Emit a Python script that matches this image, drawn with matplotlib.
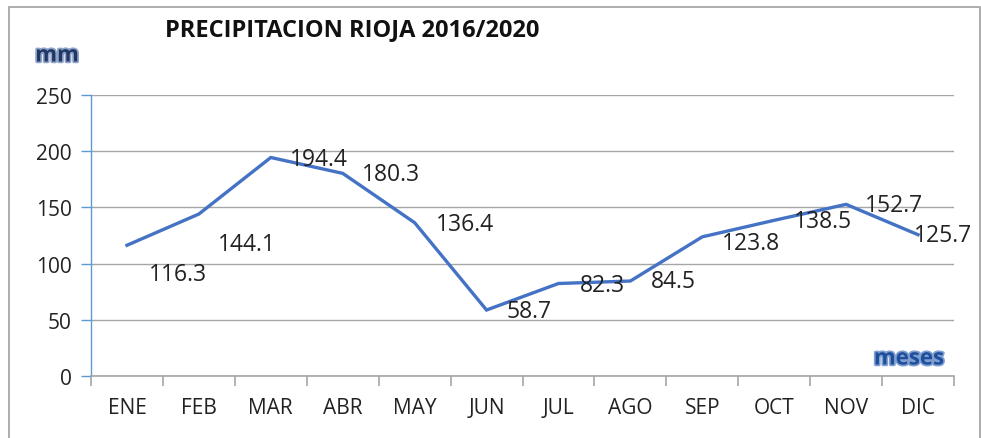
import matplotlib
matplotlib.use("Agg")
from matplotlib import pyplot as plt
from matplotlib.patches import Rectangle
import matplotlib.patheffects as pe
import numpy as np

plt.rcParams['font.family'] = ['Open Sans', 'DejaVu Sans']

# ===================== 数据 =====================
meses = ["ENE", "FEB", "MAR", "ABR", "MAY", "JUN", "JUL", "AGO", "SEP", "OCT", "NOV", "DIC"]
precip = [116.3, 144.1, 194.4, 180.3, 136.4, 58.7, 82.3, 84.5, 123.8, 138.5, 152.7, 125.7]
yticks = [0, 50, 100, 150, 200, 250]

# 标签偏移 (像素)
label_offsets = [(22, -29), (19, -30), (19, -2), (19, -1), (21, -1), (20, -1),
                 (21, -2), (21, 0), (20, -6), (20, -1), (19, -1), (-4, 0)]

fig = plt.figure(figsize=(9.81, 4.39), dpi=100)
ax = fig.add_axes([91/981, 62/439, 863/981, 281/439])

x = np.arange(len(meses))
ax.plot(x, precip, color='#4472C4', linewidth=2.4, solid_joinstyle='miter')

for xi, v, (dx, dy) in zip(x, precip, label_offsets):
    ax.annotate(f"{v:.1f}", (xi, v), xytext=(dx * 0.72, dy * 0.72),
                textcoords='offset points', ha='left', va='center',
                fontsize=16.5, color='#222222')

ax.set_xlim(-0.5, len(meses) - 0.5)
ax.set_ylim(0, 250)
ax.set_yticks(yticks)
ax.set_yticklabels([str(t) for t in yticks], fontsize=15, color='#222222')
ax.yaxis.grid(True, color='#A6A6A6', linewidth=1.0)
ax.set_axisbelow(True)

# x 轴: 类别刻度在边界
ax.set_xticks(np.arange(-0.5, len(meses), 1.0))
ax.set_xticklabels([])
ax.set_xticks(x, minor=True)
ax.set_xticklabels(meses, minor=True, fontsize=15, color='#222222')
ax.tick_params(axis='x', which='major', length=7, color='#A6A6A6', width=1.2)
ax.tick_params(axis='x', which='minor', length=0, pad=15)
ax.tick_params(axis='y', length=7, color='#5B9BD5', width=1.0, pad=7)

for s in ['top', 'right']:
    ax.spines[s].set_visible(False)
ax.spines['bottom'].set_color('#A6A6A6')
ax.spines['bottom'].set_linewidth(1.2)
ax.spines['left'].set_color('#5B9BD5')
ax.spines['left'].set_linewidth(1.0)

# 标题和轴标题
fig.text(352/981, 1 - 30/439, "PRECIPITACION RIOJA 2016/2020", ha='center', va='center',
         fontsize=17, fontweight='bold', color='#111111')
fig.text(57/981, 1 - 57/439, "mm", ha='center', va='center', fontsize=16,
         fontweight='bold', color='#1F3864',
         path_effects=[pe.withStroke(linewidth=2.5, foreground='#8FA3C8')])
fig.text(909/981, 1 - 360/439, "meses", ha='center', va='center', fontsize=16,
         fontweight='bold', color='#1F4E9C',
         path_effects=[pe.withStroke(linewidth=2.5, foreground='#7F9FD0')])

# 外框
fig.patches.append(Rectangle((8.5/981, -0.1), (980 - 8.5)/981, 1.1 - 8.5/439,
                             transform=fig.transFigure, fill=False,
                             edgecolor='#A0A0A0', linewidth=1.2))

plt.savefig("out.png", dpi=100)
